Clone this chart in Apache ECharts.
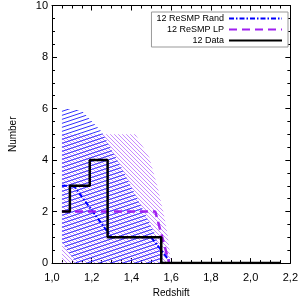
<!DOCTYPE html>
<html>
<head>
<meta charset="utf-8">
<script src="https://cdn.jsdelivr.net/npm/echarts@6/dist/echarts.min.js"></script>
<style>html,body{margin:0;padding:0;background:#fff;}#c{width:301px;height:303px;}</style>
</head>
<body>
<div id="c"></div>
<script>
// Histogram of data: bin edges and counts
var dataEdges = [1.05, 1.09, 1.19, 1.28, 1.55, 2.15];
var dataCounts = [2, 3, 4, 1, 0];
// ReSMP Rand median line
var randX = [1.05, 1.11, 1.30, 1.50, 1.60];
var randY = [3, 3, 1, 1, 0];
// ReSMP LP median line
var lpX = [1.05, 1.52, 1.59];
var lpY = [2, 2, 0];
// Rand band (blue hatch)
var randBandX  = [1.05, 1.12, 1.15, 1.25, 1.35, 1.45, 1.52, 1.56];
var randBandHi = [6.0, 5.95, 5.9, 5.1, 3.7, 2.2, 1.1, 0];
var randBandLo = [0.8, 0, 0, 0, 0, 0, 0, 0];
// LP band (purple hatch)
var lpBandX  = [1.05, 1.42, 1.49, 1.53, 1.56, 1.58, 1.60];
var lpBandHi = [5, 5, 4.1, 3.0, 2.0, 1.2, 0];
var lpBandLo = [0, 0, 0, 0, 0, 0, 0];
// Axis ticks
var xTicks = [1.0, 1.2, 1.4, 1.6, 1.8, 2.0, 2.2];
var yTicks = [0, 2, 4, 6, 8, 10];
var legendNames = ['12 ReSMP Rand', '12 ReSMP LP', '12 Data'];

function makePattern(kind) {
  var c = document.createElement('canvas');
  var ctx;
  if (kind === 'blue') {
    c.width = 12; c.height = 4;
    ctx = c.getContext('2d');
    ctx.strokeStyle = 'rgba(40,40,255,0.95)';
    ctx.lineWidth = 1;
    for (var k = -2; k <= 2; k++) {
      ctx.beginPath();
      ctx.moveTo(-12, 8 + 4 * k);
      ctx.lineTo(24, -4 + 4 * k);
      ctx.stroke();
    }
  } else {
    c.width = 4; c.height = 4;
    ctx = c.getContext('2d');
    ctx.strokeStyle = 'rgba(190,120,255,0.85)';
    ctx.lineWidth = 1;
    for (var k = -2; k <= 2; k++) {
      ctx.beginPath();
      ctx.moveTo(-4 + 4 * k, -4);
      ctx.lineTo(8 + 4 * k, 8);
      ctx.stroke();
    }
  }
  return { image: c, repeat: 'repeat' };
}
var bluePat = makePattern('blue');
var purplePat = makePattern('purple');

function bandSeries(xs, hi, lo, pat, z) {
  var d = xs.map(function (x, i) { return [x, hi[i], lo[i]]; });
  return {
    type: 'custom',
    z: z,
    silent: true,
    data: d,
    encode: { x: 0, y: [1, 2] },
    renderItem: function (params, api) {
      if (params.dataIndex !== 0) return null;
      var pts = [];
      for (var i = 0; i < d.length; i++) pts.push(api.coord([d[i][0], d[i][1]]));
      for (var j = d.length - 1; j >= 0; j--) pts.push(api.coord([d[j][0], d[j][2]]));
      return { type: 'polygon', shape: { points: pts }, style: { fill: pat, stroke: null } };
    }
  };
}

function zip(xs, ys) { return xs.map(function (x, i) { return [x, ys[i]]; }); }
var histPts = dataEdges.map(function (e, i) {
  return [e, dataCounts[Math.min(i, dataCounts.length - 1)]];
});

var font = 'Liberation Sans, Arial, sans-serif';
var chart = echarts.init(document.getElementById('c'), null, { renderer: 'canvas' });
var axisCommonX = {
  type: 'value', min: 1.0, max: 2.2, interval: 0.2,
  axisLine: { show: true, onZero: false, lineStyle: { color: '#000', width: 1 } },
  axisTick: { show: true, inside: true, length: 5, lineStyle: { color: '#000' } },
  minorTick: { show: true, splitNumber: 4, length: 3, lineStyle: { color: '#000' } },
  splitLine: { show: false }
};
var axisCommonY = {
  type: 'value', min: 0, max: 10, interval: 2,
  axisLine: { show: true, onZero: false, lineStyle: { color: '#000', width: 1 } },
  axisTick: { show: true, inside: true, length: 5, lineStyle: { color: '#000' } },
  minorTick: { show: true, splitNumber: 4, length: 3, lineStyle: { color: '#000' } },
  splitLine: { show: false }
};
chart.setOption({
  animation: false,
  backgroundColor: '#fff',
  grid: { left: 48, right: 6, top: 3, bottom: 35, containLabel: false },
  legend: {
    data: legendNames,
    orient: 'vertical',
    right: 13, top: 12,
    align: 'right',
    itemWidth: 53, itemHeight: 9, itemGap: 2,
    padding: [2, 5, 2, 5],
    borderColor: '#999', borderWidth: 1,
    backgroundColor: '#fff',
    itemStyle: { opacity: 0 },
    textStyle: { fontFamily: font, fontSize: 9, color: '#000', width: 70, align: 'right' }
  },
  xAxis: [
    Object.assign({}, axisCommonX, {
      position: 'bottom',
      name: 'Redshift', nameLocation: 'middle', nameGap: 23,
      nameTextStyle: { fontFamily: font, fontSize: 10, color: '#000' },
      axisLabel: {
        fontFamily: font, fontSize: 11, color: '#000', margin: 9,
        formatter: function (v) {
          var t = xTicks.filter(function (x) { return Math.abs(x - v) < 1e-6; });
          return t.length ? t[0].toFixed(1).replace('.', ',') : '';
        }
      }
    }),
    Object.assign({}, axisCommonX, { position: 'top', axisLabel: { show: false } })
  ],
  yAxis: [
    Object.assign({}, axisCommonY, {
      position: 'left',
      name: 'Number', nameLocation: 'middle', nameGap: 34, nameRotate: 90,
      nameTextStyle: { fontFamily: font, fontSize: 10, color: '#000' },
      axisLabel: {
        fontFamily: font, fontSize: 11, color: '#000', margin: 4,
        formatter: function (v) { return yTicks.indexOf(v) >= 0 ? String(v) : ''; }
      }
    }),
    Object.assign({}, axisCommonY, { position: 'right', axisLabel: { show: false } })
  ],
  series: [
    bandSeries(lpBandX, lpBandHi, lpBandLo, purplePat, 1),
    bandSeries(randBandX, randBandHi, randBandLo, bluePat, 2),
    {
      name: '12 ReSMP Rand', type: 'line', z: 4, symbol: 'none', data: zip(randX, randY),
      lineStyle: { color: '#0000ff', width: 2, type: [5, 2, 1.5, 2] },
      itemStyle: { color: '#0000ff' }
    },
    {
      name: '12 ReSMP LP', type: 'line', z: 4, symbol: 'none', data: zip(lpX, lpY),
      lineStyle: { color: '#a020f0', width: 2.5, type: [8, 5] },
      itemStyle: { color: '#a020f0' }
    },
    {
      name: '12 Data', type: 'line', z: 5, symbol: 'none', step: 'end', data: histPts,
      lineStyle: { color: '#000', width: 2.5 },
      itemStyle: { color: '#000' }
    }
  ]
});
</script>
</body>
</html>
